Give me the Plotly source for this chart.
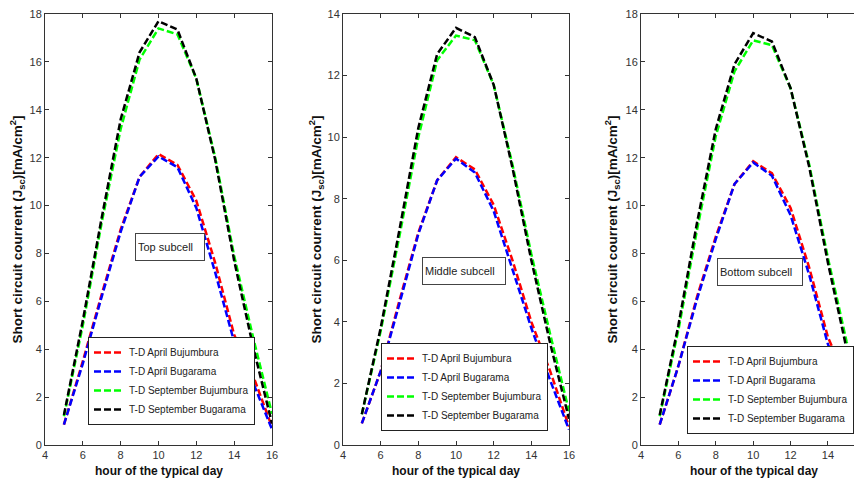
import plotly.graph_objects as go

hours = [5, 6, 7, 8, 9, 10, 11, 12, 13, 14, 15, 16]
series_names = ["T-D April Bujumbura", "T-D April Bugarama",
                "T-D September Bujumbura", "T-D September Bugarama"]
colors = ["#FF0000", "#0000FF", "#00FF00", "#000000"]

# Top subcell
top_apr_buj = [0.85, 3.5, 6.3, 9.0, 11.2, 12.15, 11.7, 10.2, 7.6, 4.6, 2.9, 0.75]
top_apr_bug = [0.85, 3.4, 6.2, 8.9, 11.2, 12.05, 11.6, 9.9, 7.2, 4.3, 2.6, 0.65]
top_sep_buj = [1.2, 5.0, 9.3, 13.2, 16.1, 17.4, 17.15, 15.3, 12.0, 7.9, 4.5, 1.3]
top_sep_bug = [1.25, 5.2, 9.5, 13.6, 16.4, 17.7, 17.35, 15.3, 11.9, 7.7, 4.1, 0.9]

# Middle subcell
mid_apr_buj = [0.7, 2.4, 4.7, 6.9, 8.6, 9.35, 8.95, 7.8, 6.0, 4.0, 2.4, 0.6]
mid_apr_bug = [0.7, 2.4, 4.6, 6.85, 8.6, 9.3, 8.85, 7.6, 5.7, 3.8, 2.1, 0.5]
mid_sep_buj = [1.0, 3.7, 6.8, 10.0, 12.5, 13.3, 13.15, 11.7, 9.1, 6.2, 3.6, 1.1]
mid_sep_bug = [1.0, 3.8, 7.0, 10.3, 12.7, 13.55, 13.25, 11.7, 9.0, 6.0, 3.3, 0.85]

# Bottom subcell
bot_apr_buj = [0.85, 3.3, 6.2, 8.7, 10.9, 11.85, 11.35, 9.9, 7.4, 4.5, 2.7, 1.0]
bot_apr_bug = [0.85, 3.3, 6.1, 8.6, 10.9, 11.8, 11.25, 9.6, 7.1, 4.2, 2.5, 0.9]
bot_sep_buj = [1.2, 4.8, 9.0, 12.9, 15.6, 16.9, 16.7, 14.9, 11.7, 7.8, 4.3, 1.4]
bot_sep_bug = [1.25, 5.0, 9.3, 13.2, 15.9, 17.2, 16.85, 14.9, 11.6, 7.6, 4.0, 0.9]

panels = [
    [top_apr_buj, top_apr_bug, top_sep_buj, top_sep_bug],
    [mid_apr_buj, mid_apr_bug, mid_sep_buj, mid_sep_bug],
    [bot_apr_buj, bot_apr_bug, bot_sep_buj, bot_sep_bug],
]
panel_labels = ["Top subcell", "Middle subcell", "Bottom subcell"]
y_ranges = [[0, 18], [0, 14], [0, 18]]
y_dticks = [2, 2, 2]
x_ranges = [[4, 16], [4, 16], [4, 15.82]]

W, H = 862, 483
OFF = 8  # page body margin offset
x_dom_px = [(45, 272), (343, 569), (641, 862)]
y_top_px, y_bot_px = 14, 445


def fx(px):
    return (px - OFF) / W


def fy(py):
    return 1 - (py - OFF) / H


FONT = "Liberation Sans, Arial, sans-serif"

fig = go.Figure()
legend_ids = ["legend", "legend2", "legend3"]
for p, data in enumerate(panels):
    xa = "x" if p == 0 else f"x{p+1}"
    ya = "y" if p == 0 else f"y{p+1}"
    for s, vals in enumerate(data):
        fig.add_trace(go.Scatter(
            x=hours, y=vals, mode="lines", name=series_names[s],
            line=dict(color=colors[s], width=2.5, dash="7px,3px"),
            xaxis=xa, yaxis=ya, legend=legend_ids[p], cliponaxis=True,
        ))

layout = dict(
    width=W, height=H,
    margin=dict(l=0, r=0, t=0, b=0, autoexpand=False),
    paper_bgcolor="white", plot_bgcolor="white",
    font=dict(family=FONT, size=11, color="#222"),
)

ydom = [fy(y_bot_px), fy(y_top_px)]
for p in range(3):
    xk = "xaxis" if p == 0 else f"xaxis{p+1}"
    yk = "yaxis" if p == 0 else f"yaxis{p+1}"
    x0, x1 = x_dom_px[p]
    layout[xk] = dict(
        domain=[fx(x0), fx(x1)], range=x_ranges[p],
        anchor="y" if p == 0 else f"y{p+1}",
        tickmode="linear", tick0=4, dtick=2,
        ticks="inside", ticklen=4, tickcolor="#333",
        showline=True, linecolor="#333", linewidth=1,
        mirror="ticks", showgrid=False, zeroline=False, automargin=False,
        ticklabeloverflow="allow",
        tickfont=dict(size=11, color="#333", family=FONT),
    )
    layout[yk] = dict(
        domain=ydom, range=y_ranges[p],
        anchor="x" if p == 0 else f"x{p+1}",
        tickmode="linear", tick0=0, dtick=y_dticks[p],
        ticks="inside", ticklen=4, tickcolor="#333",
        showline=True, linecolor="#333", linewidth=1,
        mirror="ticks" if p < 2 else False, showgrid=False, zeroline=False,
        automargin=False, ticklabeloverflow="allow",
        tickfont=dict(size=11, color="#333", family=FONT),
    )

legend_pos_px = [(88, 337), (381, 343), (687, 346)]
for p, lid in enumerate(legend_ids):
    lx, ly = legend_pos_px[p]
    layout[lid] = dict(
        x=fx(lx), y=fy(ly), xanchor="left", yanchor="top",
        bgcolor="white", bordercolor="#222", borderwidth=1,
        font=dict(family=FONT, size=10, color="#222"),
        tracegroupgap=0, itemwidth=30,
    )

fig.update_layout(**layout)

# Sub-cell label boxes
box_centers = [(169.5, 246.5, 70), (463.5, 270.5, 84), (759.5, 271.5, 86)]
for p, (cx, cy, bw) in enumerate(box_centers):
    fig.add_annotation(
        x=fx(cx), y=fy(cy), xref="paper", yref="paper",
        text=panel_labels[p], showarrow=False, align="left",
        width=bw - 6, height=22, borderpad=2,
        bordercolor="#444", borderwidth=1, bgcolor="white",
        font=dict(family=FONT, size=11, color="#222"),
        xanchor="center", yanchor="middle",
    )

# Axis titles
ytitle = "Short circuit courrent (J<sub>sc</sub>)[mA/cm<sup>2</sup>]"
ytitle_x_px = [17, 316, 612]
for p in range(3):
    fig.add_annotation(
        x=fx(ytitle_x_px[p]), y=(ydom[0] + ydom[1]) / 2,
        xref="paper", yref="paper", text="<b>" + ytitle + "</b>",
        textangle=-90, showarrow=False,
        font=dict(family=FONT, size=13.5, color="#111"),
        xanchor="center", yanchor="middle",
    )
    x0, x1 = x_dom_px[p]
    xc = (x0 + (x1 if p < 2 else 866)) / 2
    fig.add_annotation(
        x=fx(xc), y=fy(471), xref="paper", yref="paper",
        text="<b>hour of the typical day</b>", showarrow=False,
        font=dict(family=FONT, size=12, color="#111"),
        xanchor="center", yanchor="middle",
    )

fig.write_html("out.html")
